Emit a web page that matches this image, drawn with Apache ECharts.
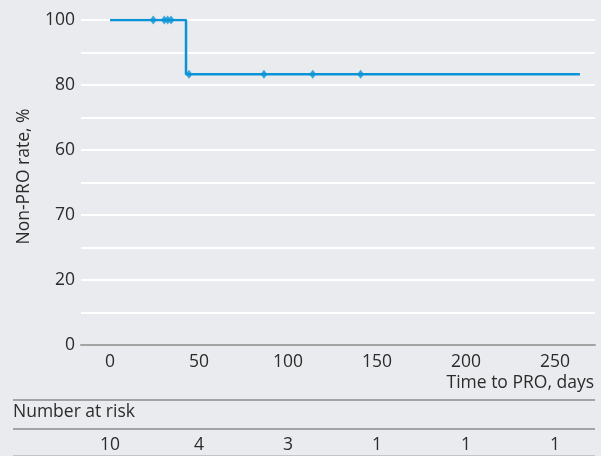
<!DOCTYPE html>
<html>
<head>
<meta charset="utf-8">
<script src="https://cdn.jsdelivr.net/npm/echarts@6/dist/echarts.min.js"></script>
<style>
  html, body { margin: 0; padding: 0; background: #eaebee; }
  #chart { width: 601px; height: 456px; }
</style>
</head>
<body>
<div id="chart"></div>
<script>
// KM curve (days, non-PRO rate %)
const curveDays = [0, 42.7, 42.7, 264];
const curveRates = [100, 100, 83.3, 83.3];
// censored observations
const censorDays = [24.3, 30.5, 32.4, 34.3, 44.4, 86.5, 113.9, 140.8];
const censorRates = [100, 100, 100, 100, 83.3, 83.3, 83.3, 83.3];
// x ticks and number at risk
const xTicks = [0, 50, 100, 150, 200, 250];
const atRisk = [10, 4, 3, 1, 1, 1];
// y tick labels as printed (value -> text)
const yTickValues = [0, 20, 40, 60, 80, 100];
const yTickLabels = ['0', '20', '70', '60', '80', '100'];

const font = 'Open Sans';
const fs = 17.5;
const textColor = '#2b2b2b';
const blue = '#0a94d6';

var myChart = echarts.init(document.getElementById('chart'));
var option = {
    backgroundColor: '#eaebee',
    animation: false,
    textStyle: { fontFamily: font },
    grid: { left: 81, right: 6, top: 20, bottom: 111, containLabel: false },
    xAxis: [{
        type: 'value',
        min: -16.3,
        max: 272.5,
        axisLine: { show: true, lineStyle: { color: '#a3a3a3', width: 2 } },
        axisTick: { show: false },
        splitLine: { show: false },
        axisLabel: {
            customValues: xTicks,
            margin: 8,
            fontSize: fs,
            color: textColor,
            fontFamily: font
        }
    }, {
        // number at risk row, aligned with time ticks
        type: 'value',
        position: 'bottom',
        offset: 83,
        min: -16.3,
        max: 272.5,
        axisLine: { show: false },
        axisTick: { show: false },
        splitLine: { show: false },
        axisLabel: {
            customValues: xTicks,
            fontSize: fs,
            color: textColor,
            fontFamily: font,
            formatter(v) {
                var i = xTicks.indexOf(v);
                return i >= 0 ? String(atRisk[i]) : '';
            }
        }
    }],
    yAxis: {
        type: 'value',
        min: 0,
        max: 100,
        interval: 10,
        name: 'Non-PRO rate, %',
        nameLocation: 'middle',
        nameGap: 48,
        nameTextStyle: { fontSize: fs, color: textColor, fontFamily: font, padding: [0, 0, 0, 12] },
        axisLine: { show: false },
        axisTick: { show: false },
        splitLine: { show: true, lineStyle: { color: '#ffffff', width: 2 } },
        axisLabel: {
            margin: 6,
            fontSize: fs,
            color: textColor,
            fontFamily: font,
            formatter(v) {
                var i = yTickValues.indexOf(v);
                return i >= 0 ? yTickLabels[i] : '';
            }
        }
    },
    graphic: [
        { type: 'line', shape: { x1: 13, y1: 400, x2: 595, y2: 400 }, style: { stroke: '#a3a3a3', lineWidth: 2 } },
        { type: 'line', shape: { x1: 13, y1: 429, x2: 595, y2: 429 }, style: { stroke: '#a3a3a3', lineWidth: 2 } },
        { type: 'line', shape: { x1: 13, y1: 455.5, x2: 595, y2: 455.5 }, style: { stroke: '#c4c4c4', lineWidth: 1 } },
        { type: 'text', right: 7, top: 374, style: { text: 'Time to PRO, days', fontSize: fs, fill: textColor, fontFamily: font } },
        { type: 'text', left: 13, top: 403, style: { text: 'Number at risk', fontSize: fs, fill: textColor, fontFamily: font } }
    ],
    series: [{
        name: 'KM',
        type: 'line',
        showSymbol: false,
        lineStyle: { color: blue, width: 2.5 },
        data: curveDays.map((d, i) => [d, curveRates[i]])
    }, {
        name: 'Censored',
        type: 'scatter',
        symbol: 'diamond',
        symbolSize: [7, 9],
        itemStyle: { color: blue },
        data: censorDays.map((d, i) => [d, censorRates[i]])
    }]
};
myChart.setOption(option);
</script>
</body>
</html>
